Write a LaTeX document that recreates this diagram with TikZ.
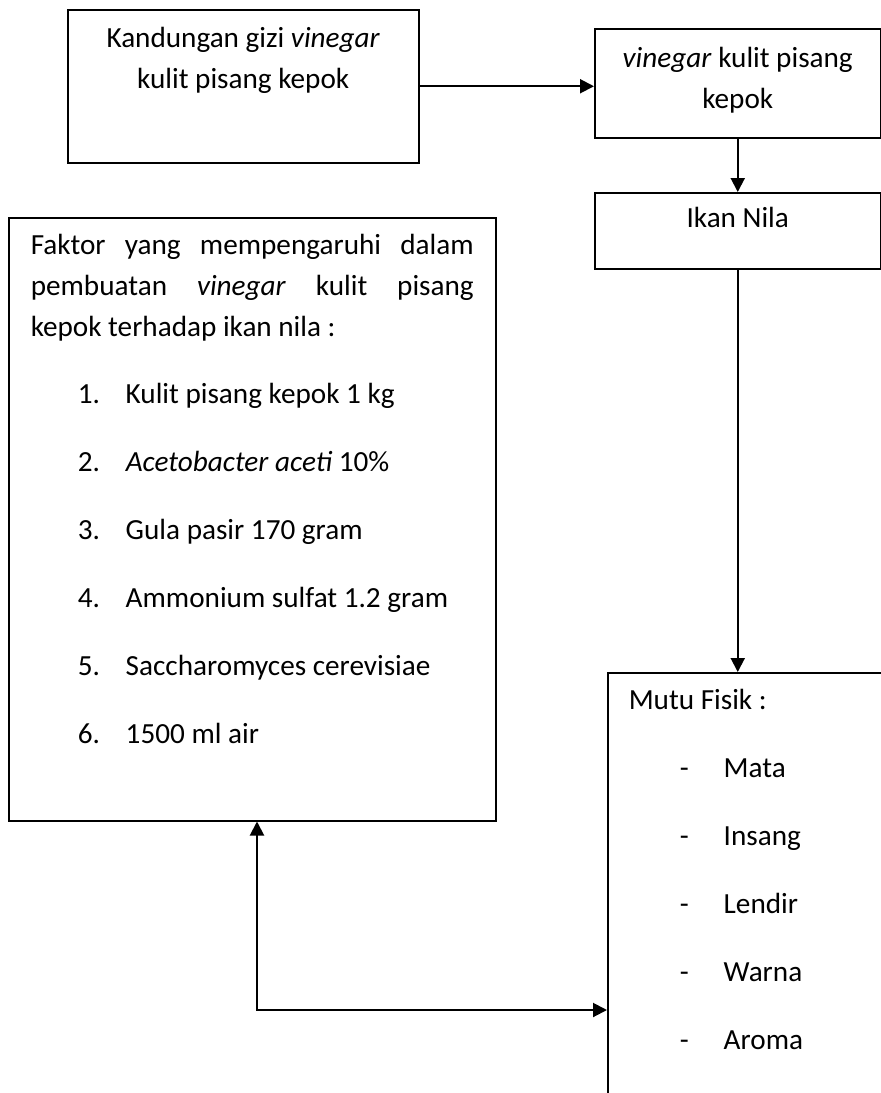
\documentclass[tikz,border=0pt]{standalone}
\usepackage{fontspec}
\setmainfont{Carlito}
\usetikzlibrary{arrows.meta}
\setlength{\parindent}{0pt}

\begin{document}
\begin{tikzpicture}[x=1pt,y=-1pt]
\tikzstyle{every node}=[draw,rectangle,line width=1.5pt,anchor=north west,inner ysep=0pt,font=\fontsize{29.2pt}{41pt}\selectfont]
\tikzstyle{link}=[line width=2pt,-{Triangle[length=14pt,width=14pt]}]
\useasboundingbox (0,0) rectangle (881,1093);

\node[inner xsep=10pt,text width=331pt,align=flush center](gizi) at (67,9) {\rule{0pt}{38pt}Kandungan gizi \textit{vinegar}\\kulit pisang kepok\rule[-74pt]{0pt}{0pt}};
\node[inner xsep=10pt,text width=266pt,align=flush center](vin) at (594,28) {\rule{0pt}{39pt}\textit{vinegar} kulit pisang\\kepok\rule[-29pt]{0pt}{0pt}};
\node[inner xsep=10pt,text width=266pt,align=flush center](nila) at (594,192) {\rule{0pt}{35pt}Ikan Nila\rule[-41pt]{0pt}{0pt}};

\node[inner xsep=22pt,text width=443pt,align=justify](faktor) at (8,217) {\rule{0pt}{37pt}Faktor yang mempengaruhi dalam\linebreak pembuatan \textit{vinegar} kulit pisang\linebreak kepok terhadap ikan nila :\par\vspace{26pt}
\hspace*{47pt}\makebox[48pt][l]{1.}Kulit pisang kepok 1 kg\par\vspace{27pt}
\hspace*{47pt}\makebox[48pt][l]{2.}\textit{Acetobacter aceti} 10\%\par\vspace{27pt}
\hspace*{47pt}\makebox[48pt][l]{3.}Gula pasir 170 gram\par\vspace{27pt}
\hspace*{47pt}\makebox[48pt][l]{4.}Ammonium sulfat 1.2 gram\par\vspace{27pt}
\hspace*{47pt}\makebox[48pt][l]{5.}Saccharomyces cerevisiae\par\vspace{27pt}
\hspace*{47pt}\makebox[48pt][l]{6.}1500 ml air\rule[-77pt]{0pt}{0pt}};

\node[inner xsep=21pt,text width=300pt,align=flush left](mutu) at (607,672) {\rule{0pt}{37pt}Mutu Fisik :\par\vspace{27pt}
\hspace*{51pt}\makebox[44pt][l]{-}Mata\par\vspace{27pt}
\hspace*{51pt}\makebox[44pt][l]{-}Insang\par\vspace{27pt}
\hspace*{51pt}\makebox[44pt][l]{-}Lendir\par\vspace{27pt}
\hspace*{51pt}\makebox[44pt][l]{-}Warna\par\vspace{27pt}
\hspace*{51pt}\makebox[44pt][l]{-}Aroma\rule[-110pt]{0pt}{0pt}};

\draw[link] (gizi.east) -- (gizi.east -| vin.west);
\draw[link] (vin.south) -- (nila.north);
\draw[link] (nila.south) -- (nila.south |- mutu.north);
\coordinate (turn) at (257,1010);
\draw[link,{Triangle[length=14pt,width=14pt]}-{Triangle[length=14pt,width=14pt]}] (faktor.south -| turn) -- (turn) -- (turn -| mutu.west);
\end{tikzpicture}
\end{document}
